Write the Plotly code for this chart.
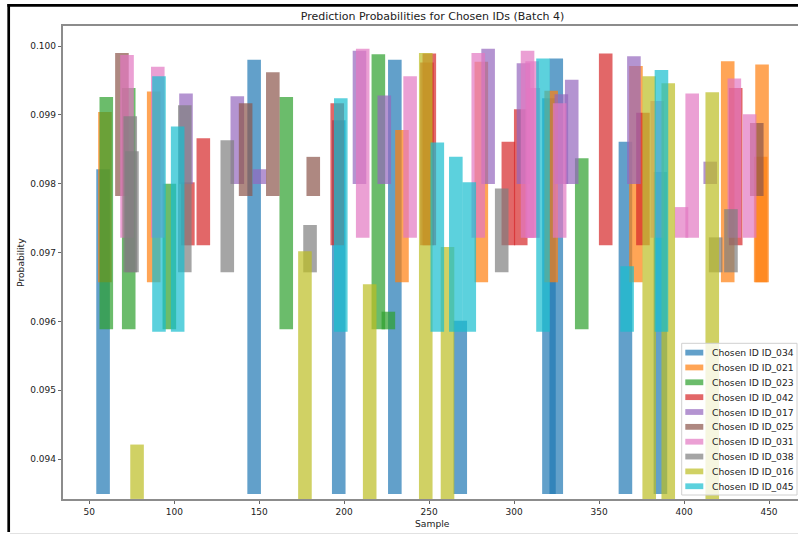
import plotly.graph_objects as go

# ---------------- data ----------------
ids = ["ID_034", "ID_021", "ID_023", "ID_042", "ID_017",
       "ID_025", "ID_031", "ID_038", "ID_016", "ID_045"]
colors = ["#1f77b4", "#ff7f0e", "#2ca02c", "#d62728", "#9467bd",
          "#8c564b", "#e377c2", "#7f7f7f", "#bcbd22", "#17becf"]

# lower end of every bar for each chosen ID
bottoms = [0.09349, 0.096567, 0.095884, 0.097104, 0.097995,
           0.097821, 0.097215, 0.096712, 0.09342, 0.09585]

samples_034 = [58.1, 147.0, 196.8, 229.8, 268.3, 320.5, 324.8, 365.5, 386.1]
probs_034 = [0.09821, 0.09980, 0.09892, 0.09980, 0.09601, 0.09924, 0.09982, 0.09861, 0.09817]

samples_021 = [59.2, 87.9, 234.0, 280.7, 321.8, 371.7, 425.7, 445.1, 445.9]
probs_021 = [0.09904, 0.09934, 0.09878, 0.09977, 0.09935, 0.09971, 0.09978, 0.09839, 0.09973]

samples_023 = [60.0, 73.2, 97.1, 165.9, 220.1, 226.0, 339.8]
probs_023 = [0.09926, 0.09939, 0.09800, 0.09926, 0.09988, 0.09614, 0.09837]

samples_042 = [108.0, 117.1, 195.9, 248.7, 250.1, 296.6, 303.9, 353.9, 375.8, 430.4]
probs_042 = [0.09802, 0.09866, 0.09917, 0.09976, 0.09989, 0.09861, 0.09908, 0.09989, 0.09903, 0.09939]

samples_017 = [106.9, 137.1, 150.2, 209.0, 223.6, 284.7, 305.5, 327.8, 333.9, 370.5, 415.4]
probs_017 = [0.09931, 0.09927, 0.09821, 0.09993, 0.09928, 0.09996, 0.09975, 0.09930, 0.09951, 0.09985, 0.09832]

samples_025 = [69.2, 142.0, 158.0, 181.8, 442.8]
probs_025 = [0.09990, 0.09917, 0.09962, 0.09839, 0.09888]

samples_031 = [72.2, 90.3, 210.9, 238.8, 278.9, 307.9, 310.6, 311.3, 326.8, 384.2, 398.5, 404.8, 429.6, 438.6]
probs_031 = [0.09987, 0.09970, 0.09996, 0.09956, 0.09990, 0.09993, 0.09978, 0.09939, 0.09917, 0.09920,
             0.09766, 0.09931, 0.09953, 0.09901]

samples_038 = [74.1, 75.1, 106.2, 131.2, 179.9, 292.7, 418.6, 427.6]
probs_038 = [0.09898, 0.09847, 0.09914, 0.09863, 0.09740, 0.09793, 0.09722, 0.09763]

samples_016 = [78.1, 176.9, 215.0, 248.0, 260.8, 379.5, 390.7, 416.6]
probs_016 = [0.09421, 0.09702, 0.09654, 0.09990, 0.09708, 0.09956, 0.09946, 0.09933]

samples_045 = [91.0, 102.0, 198.0, 254.8, 265.7, 273.6, 317.0, 366.5, 386.7]
probs_045 = [0.09956, 0.09883, 0.09924, 0.09860, 0.09839, 0.09802, 0.09982, 0.09680, 0.09965]

samples = [samples_034, samples_021, samples_023, samples_042, samples_017,
           samples_025, samples_031, samples_038, samples_016, samples_045]
probs = [probs_034, probs_021, probs_023, probs_042, probs_017,
         probs_025, probs_031, probs_038, probs_016, probs_045]

x_ticks = [50, 100, 150, 200, 250, 300, 350, 400, 450]
y_ticks = [0.094, 0.095, 0.096, 0.097, 0.098, 0.099, 0.100]

# ---------------- figure ----------------
W_FIG, H_FIG = 798, 535
L, R, T, B = 63, 798, 26, 499
PW, PH = R - L, B - T


def px_x(px):
    return (px - L) / PW


def px_y(py):
    return (B - py) / PH


def rgba(hex_color, a):
    h = hex_color.lstrip("#")
    r, g, b = int(h[0:2], 16), int(h[2:4], 16), int(h[4:6], 16)
    return f"rgba({r},{g},{b},{a})"


FONT = "DejaVu Sans"
fig = go.Figure()

for cid, col, base, xs, ps in zip(ids, colors, bottoms, samples, probs):
    fig.add_trace(go.Bar(
        x=xs,
        y=[p - base for p in ps],
        base=base,
        width=8,
        name=f"Chosen ID {cid}",
        marker=dict(color=rgba(col, 0.7), line=dict(width=0)),
        showlegend=False,
    ))

shapes = []
annotations = []

# legend (matplotlib style, lower right)
shapes.append(dict(type="rect", xref="paper", yref="paper",
                   x0=px_x(681.7), x1=px_x(797), y0=px_y(495), y1=px_y(343.3),
                   line=dict(color="#d0d0d0", width=1),
                   fillcolor="rgba(255,255,255,0.8)", layer="above"))
for i, (cid, col) in enumerate(zip(ids, colors)):
    cy = 352.6 + i * 14.85
    shapes.append(dict(type="rect", xref="paper", yref="paper",
                       x0=px_x(685.3), x1=px_x(703.3),
                       y0=px_y(cy + 2.9), y1=px_y(cy - 2.9),
                       line=dict(width=0), fillcolor=rgba(col, 0.7), layer="above"))
    annotations.append(dict(xref="paper", yref="paper", x=px_x(709.5), y=px_y(cy),
                            xanchor="left", yanchor="middle", showarrow=False,
                            text=f"Chosen ID {cid}",
                            font=dict(family=FONT, size=9.2, color="#222222")))

# axis labels
annotations.append(dict(xref="paper", yref="paper", x=px_x(20.5), y=px_y(262.5),
                        xanchor="center", yanchor="middle", showarrow=False,
                        text="Probability", textangle=-90,
                        font=dict(family=FONT, size=9.2, color="#222222")))
annotations.append(dict(xref="paper", yref="paper", x=px_x(432.3), y=px_y(523.5),
                        xanchor="center", yanchor="middle", showarrow=False,
                        text="Sample",
                        font=dict(family=FONT, size=9.2, color="#222222")))

# screenshot frame
shapes.append(dict(type="line", xref="paper", yref="paper",
                   x0=px_x(8.7), x1=px_x(8.7), y0=px_y(4), y1=px_y(532),
                   line=dict(color="black", width=2.7)))
shapes.append(dict(type="line", xref="paper", yref="paper",
                   x0=px_x(7.4), x1=px_x(798), y0=px_y(5.3), y1=px_y(5.3),
                   line=dict(color="black", width=2.7)))
shapes.append(dict(type="line", xref="paper", yref="paper",
                   x0=px_x(10), x1=px_x(798), y0=px_y(533.5), y1=px_y(533.5),
                   line=dict(color="#e2e2e2", width=1)))

axis_common = dict(showgrid=False, zeroline=False, showline=True,
                   linecolor="#8c8c8c", linewidth=1.5,
                   ticks="outside", ticklen=3.5, tickwidth=1, tickcolor="#666666",
                   tickfont=dict(family=FONT, size=9, color="#222222"))

fig.update_layout(
    width=W_FIG, height=H_FIG,
    margin=dict(l=L, r=W_FIG - R, t=T, b=H_FIG - B, pad=0),
    barmode="overlay",
    plot_bgcolor="white", paper_bgcolor="white",
    title=dict(text="Prediction Probabilities for Chosen IDs (Batch 4)",
               x=px_x(432.5), xref="paper", xanchor="center",
               y=1 - 16.5 / H_FIG, yref="container", yanchor="middle",
               font=dict(family=FONT, size=11, color="#222222")),
    xaxis=dict(range=[34.52, 467.06], tickvals=x_ticks, mirror=True, **axis_common),
    yaxis=dict(range=[0.093419, 0.100291], tickvals=y_ticks, tickformat=".3f",
               mirror=False, **axis_common),
    shapes=shapes,
    annotations=annotations,
    showlegend=False,
)

fig.write_html("out.html")
